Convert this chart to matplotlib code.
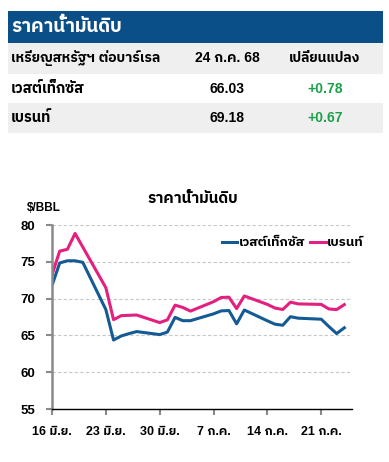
import numpy as np
import pandas as pd
import matplotlib
matplotlib.use("Agg")
import matplotlib.pyplot as plt
from matplotlib import font_manager
from matplotlib.ft2font import FT2Font
from matplotlib.patches import Rectangle

# --- data ---
dates = ["2025-06-16", "2025-06-17", "2025-06-18", "2025-06-19", "2025-06-20",
         "2025-06-23", "2025-06-24", "2025-06-25", "2025-06-26", "2025-06-27",
         "2025-06-30", "2025-07-01", "2025-07-02", "2025-07-03", "2025-07-04",
         "2025-07-07", "2025-07-08", "2025-07-09", "2025-07-10", "2025-07-11",
         "2025-07-14", "2025-07-15", "2025-07-16", "2025-07-17", "2025-07-18",
         "2025-07-21", "2025-07-22", "2025-07-23", "2025-07-24"]
wti = [71.77, 74.84, 75.14, 75.14, 74.93,
       68.51, 64.37, 64.92, 65.24, 65.52,
       65.11, 65.45, 67.45, 67.00, 67.00,
       67.93, 68.33, 68.38, 66.57, 68.45,
       66.98, 66.52, 66.38, 67.54, 67.34,
       67.20, 66.20, 65.25, 66.03]
brent = [73.23, 76.45, 76.70, 78.85, 77.01,
         71.48, 67.14, 67.68, 67.73, 67.77,
         66.74, 67.11, 69.11, 68.80, 68.30,
         69.58, 70.15, 70.19, 68.64, 70.36,
         69.21, 68.71, 68.52, 69.52, 69.28,
         69.21, 68.59, 68.51, 69.18]
series_names = ["เวสต์เท็กซัส", "เบรนท์"]

tick_dates = ["2025-06-16", "2025-06-23", "2025-06-30", "2025-07-07", "2025-07-14", "2025-07-21"]
tick_labels = ["16 มิ.ย.", "23 มิ.ย.", "30 มิ.ย.", "7 ก.ค.", "14 ก.ค.", "21 ก.ค."]
y_ticks = [55, 60, 65, 70, 75, 80]

table_title = "ราคาน้ำมันดิบ"
table_head = ["เหรียญสหรัฐฯ ต่อบาร์เรล", "24 ก.ค. 68", "เปลี่ยนแปลง"]
latest = ["66.03", "69.18"]
change = ["+0.78", "+0.67"]

BLUE = "#145a95"
PINK = "#e3207f"
NAVY = "#0b4f88"
GREEN = "#1aa04a"


def find_thai_font():
    """Pick an installed family that really has Thai glyphs."""
    found = []
    for f in font_manager.fontManager.ttflist:
        try:
            if FT2Font(f.fname).get_char_index(ord("ก")):
                found.append(f.name)
        except Exception:
            pass
    for name in found:
        if "Thai" in name:
            return name
    return found[0] if found else "DejaVu Sans"


thai = find_thai_font()
plt.rcParams["font.family"] = ["Liberation Sans", thai, "DejaVu Sans"]
plt.rcParams["font.weight"] = "bold"

W, H = 389, 462
fig = plt.figure(figsize=(W / 100, H / 100), dpi=100)


def fx(x): return x / W
def fy(y): return 1 - y / H


def band(y0, y1, color):
    fig.add_artist(Rectangle((fx(8), fy(y1)), fx(383) - fx(8), (y1 - y0) / H,
                             transform=fig.transFigure, color=color, lw=0, zorder=0))


# --- table on top ---
band(11, 43, NAVY)
band(43, 74, "#efefef")
band(103, 133, "#efefef")
fig.text(fx(11), fy(27), table_title, color="white", fontsize=13.5, va="center")
fig.text(fx(11), fy(58), table_head[0], fontsize=10, va="center")
fig.text(fx(227), fy(58), table_head[1], fontsize=10, va="center", ha="center")
fig.text(fx(325), fy(58), table_head[2], fontsize=10, va="center", ha="center")
for i, row_y in enumerate([89, 118]):
    fig.text(fx(11), fy(row_y), series_names[i], fontsize=10.5, va="center")
    fig.text(fx(227), fy(row_y), latest[i], fontsize=10, va="center", ha="center")
    fig.text(fx(325), fy(row_y), change[i], fontsize=10, va="center", ha="center", color=GREEN)

# --- line chart ---
x = pd.to_datetime(dates)
ax = fig.add_axes([fx(52), fy(409), (352 - 52) / W, (409 - 225) / H])
ax.plot(x, wti, color=BLUE, lw=2.2, label=series_names[0])
ax.plot(x, brent, color=PINK, lw=2.2, label=series_names[1])

ax.set_xlim(pd.Timestamp("2025-06-16"), pd.Timestamp("2025-07-25"))
ax.set_ylim(55, 80)
ax.set_yticks(y_ticks)
ax.set_xticks(pd.to_datetime(tick_dates))
ax.set_xticklabels(tick_labels)
ax.grid(axis="y", color="#c8c8c8", linestyle=(0, (3, 2)), lw=0.8)
ax.set_axisbelow(True)
for side in ["top", "right"]:
    ax.spines[side].set_visible(False)
ax.spines["left"].set_color("#8a8a8a")
ax.spines["left"].set_linewidth(1.8)
ax.spines["bottom"].set_color("black")
ax.spines["bottom"].set_linewidth(1.0)
ax.tick_params(axis="x", colors="#8a8a8a", length=4, width=1.5, labelcolor="black",
               labelsize=9, pad=8)
ax.tick_params(axis="y", colors="#8a8a8a", length=4, width=1.5, labelcolor="black",
               labelsize=9.5, pad=8)

ax.legend(loc="center right", bbox_to_anchor=(fx(364), fy(243)), bbox_transform=fig.transFigure,
          ncol=2, frameon=False, fontsize=9.5, handlelength=1.2, handletextpad=0.1,
          columnspacing=0.4, borderaxespad=0, borderpad=0)

fig.text(fx(193), fy(199), table_title, fontsize=11, ha="center", va="center")
fig.text(fx(27), fy(208), "$/BBL", fontsize=8.5, va="center")

fig.savefig("out.png", dpi=100)
